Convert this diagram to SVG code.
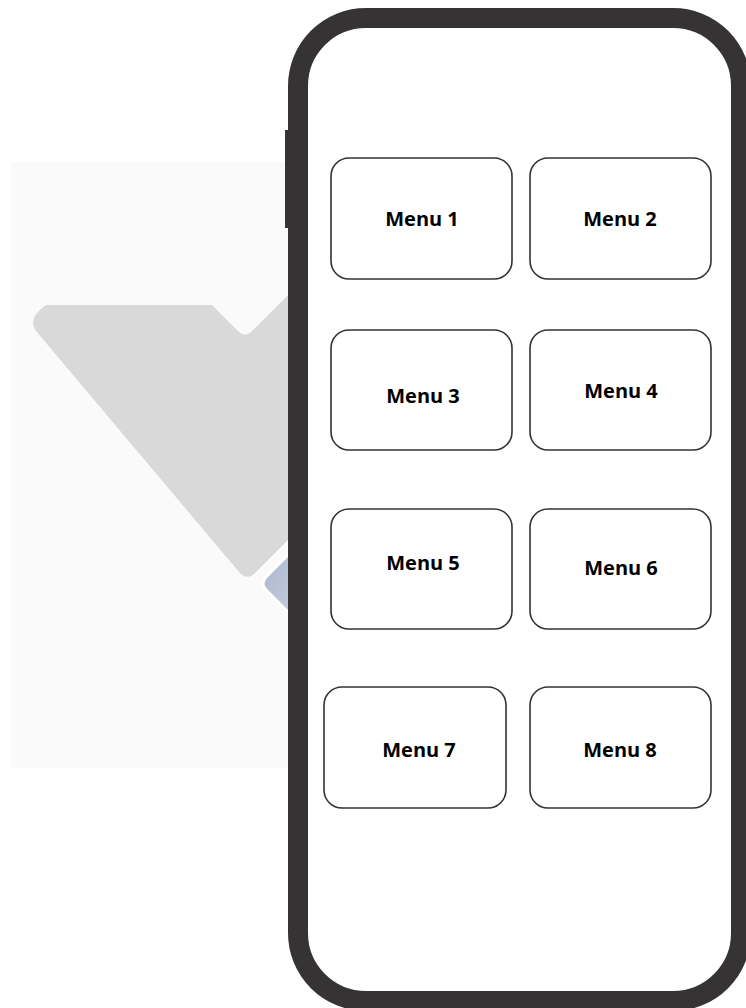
<svg xmlns="http://www.w3.org/2000/svg" width="746" height="1008" viewBox="0 0 746 1008">
  <style>
    .box { fill: #ffffff; stroke: #333333; stroke-width: 1.6; }
    .lbl { font-family: "Open Sans", "Liberation Sans", sans-serif; font-weight: 700; font-size: 20px; fill: #000000; text-anchor: middle; }
  </style>
  <defs>
    <linearGradient id="blueg" x1="0" y1="0" x2="1" y2="1">
      <stop offset="0" stop-color="#a9b5cd"/>
      <stop offset="1" stop-color="#c9d1e1"/>
    </linearGradient>
  </defs>
  <rect width="746" height="1008" fill="#ffffff"/>
  <g id="background">
    <rect x="11" y="162" width="290" height="606" fill="#fafafa"/>
    <path d="M 46 305 L 212 305 L 237 330 Q 245 339 253 330 L 300 283 L 300 528 L 255 573 Q 247 581 239 572 L 36 331 Q 27 318 46 305 Z" fill="#d9d9d9"/>
    <path d="M 300 543 L 266 577 Q 260 584 266 590 L 300 624 Z" fill="url(#blueg)" stroke="#ffffff" stroke-width="3"/>
  </g>
  <g id="phone">
    <rect x="285" y="130" width="8" height="98" fill="#353334"/>
    <rect x="298" y="18" width="443" height="983" rx="68" ry="68" fill="#ffffff" stroke="#353334" stroke-width="20"/>
  </g>
  <g id="menu1"><rect class="box" x="331" y="158" width="181" height="121" rx="18"/><text class="lbl" x="422" y="226">Menu 1</text></g>
  <g id="menu2"><rect class="box" x="530" y="158" width="181" height="121" rx="18"/><text class="lbl" x="620" y="226">Menu 2</text></g>
  <g id="menu3"><rect class="box" x="331" y="330" width="181" height="120" rx="18"/><text class="lbl" x="423" y="403">Menu 3</text></g>
  <g id="menu4"><rect class="box" x="530" y="330" width="181" height="120" rx="18"/><text class="lbl" x="621" y="398">Menu 4</text></g>
  <g id="menu5"><rect class="box" x="331" y="509" width="181" height="120" rx="18"/><text class="lbl" x="423" y="570">Menu 5</text></g>
  <g id="menu6"><rect class="box" x="530" y="509" width="181" height="120" rx="18"/><text class="lbl" x="621" y="575">Menu 6</text></g>
  <g id="menu7"><rect class="box" x="324" y="687" width="182" height="121" rx="18"/><text class="lbl" x="419" y="757">Menu 7</text></g>
  <g id="menu8"><rect class="box" x="530" y="687" width="181" height="121" rx="18"/><text class="lbl" x="620" y="757">Menu 8</text></g>
  <g id="connectors"/>
</svg>
